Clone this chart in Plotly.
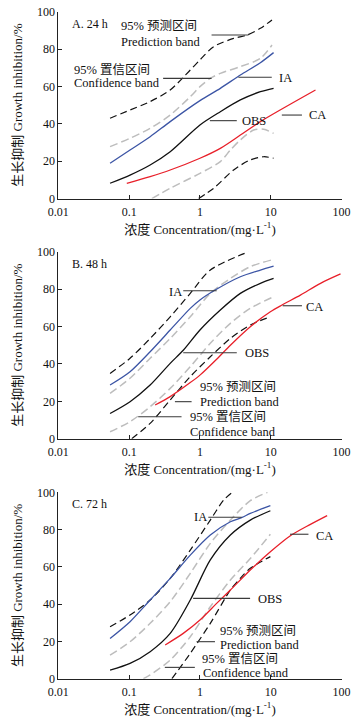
import plotly.graph_objects as go

# ---------------- data (concentration mg/L, inhibition %) ----------------
# Panel A 24 h
A_IA_x = [0.0538, 0.103, 0.198, 0.380, 1.0, 1.94, 3.72, 7.13, 10.96]
A_IA_y = [18.9, 26.0, 33.1, 41.2, 52.4, 59.0, 66.1, 72.7, 78.1]
A_OBS_x = [0.0538, 0.103, 0.198, 0.380, 1.0, 1.94, 3.72, 7.13, 10.96]
A_OBS_y = [8.2, 12.6, 18.0, 25.1, 39.4, 46.5, 52.8, 57.2, 59.0]
A_CA_x = [0.0927, 0.198, 0.380, 1.0, 1.94, 3.72, 7.13, 42.8]
A_CA_y = [8.2, 11.8, 15.3, 21.6, 26.9, 34.0, 41.2, 58.1]
A_CU_x = [0.0538, 0.103, 0.198, 0.380, 0.730, 1.0, 1.40, 1.94, 3.72, 7.13, 10.4]
A_CU_y = [27.8, 32.3, 37.6, 44.7, 54.5, 59.9, 64.3, 67.0, 70.6, 75.0, 82.2]
A_CL_x = [0.209, 0.380, 1.0, 1.94, 2.69, 3.72, 5.73, 7.94, 10.96]
A_CL_y = [0.0, 5.5, 13.5, 19.8, 26.0, 31.4, 36.7, 37.1, 34.9]
A_PU_x = [0.0538, 0.103, 0.198, 0.380, 0.730, 1.0, 1.56, 2.99, 4.62, 7.13, 10.4]
A_PU_y = [43.0, 47.4, 51.9, 58.1, 68.8, 74.2, 81.3, 85.7, 87.5, 91.1, 95.6]
A_PL_x = [0.955, 1.56, 2.99, 5.14, 7.94, 10.96]
A_PL_y = [0.0, 5.5, 15.3, 20.7, 22.4, 21.6]

# Panel B 48 h
B_IA_x = [0.0538, 0.103, 0.198, 0.380, 0.730, 1.0, 1.64, 3.72, 7.13, 10.96]
B_IA_y = [28.7, 35.8, 46.5, 58.1, 69.7, 74.2, 79.5, 86.6, 90.2, 92.3]
B_OBS_x = [0.0538, 0.103, 0.198, 0.380, 0.586, 1.0, 1.94, 3.72, 7.13, 10.96]
B_OBS_y = [13.5, 19.8, 28.7, 40.3, 47.4, 58.1, 68.8, 77.7, 83.1, 85.7]
B_CA_x = [0.233, 0.380, 0.730, 1.0, 1.72, 2.69, 5.14, 9.87, 14.4, 26.2, 50.4, 96.6]
B_CA_y = [18.0, 22.5, 30.0, 34.0, 42.5, 50.0, 59.9, 67.9, 71.5, 76.8, 83.1, 88.1]
B_CU_x = [0.0538, 0.103, 0.198, 0.380, 0.730, 1.40, 2.69, 5.14, 10.96]
B_CU_y = [24.2, 32.3, 43.0, 53.6, 65.2, 77.7, 85.7, 92.0, 95.9]
B_CL_x = [0.0538, 0.103, 0.198, 0.380, 0.730, 1.40, 2.69, 5.14, 10.96]
B_CL_y = [3.7, 9.1, 17.1, 26.9, 38.5, 51.0, 61.7, 69.7, 75.9]
B_PU_x = [0.0538, 0.103, 0.198, 0.380, 0.730, 1.40, 4.87]
B_PU_y = [34.9, 43.0, 53.6, 65.2, 77.7, 90.2, 100.0]
B_PL_x = [0.109, 0.198, 0.380, 0.730, 1.40, 2.69, 5.14, 9.87]
B_PL_y = [0.0, 8.2, 20.7, 33.2, 43.8, 53.6, 60.8, 65.2]

# Panel C 72 h
C_IA_x = [0.0538, 0.103, 0.198, 0.380, 0.730, 1.40, 2.69, 3.93, 5.14, 9.87]
C_IA_y = [21.6, 30.6, 42.2, 53.8, 66.3, 77.1, 84.2, 86.5, 88.7, 92.8]
C_OBS_x = [0.0538, 0.103, 0.198, 0.380, 0.730, 1.40, 2.69, 5.14, 9.87]
C_OBS_y = [4.6, 8.2, 14.5, 24.3, 42.2, 63.7, 77.1, 85.1, 90.1]
C_CA_x = [0.323, 0.581, 1.0, 1.72, 2.69, 5.14, 9.87, 18.9, 36.3, 62.5]
C_CA_y = [18.1, 24.3, 31.5, 40.4, 47.6, 58.3, 68.1, 76.7, 82.8, 87.5]
C_CU_x = [0.0538, 0.103, 0.198, 0.380, 0.730, 1.40, 2.69, 5.14, 9.0]
C_CU_y = [12.7, 19.8, 29.7, 41.3, 56.5, 72.6, 85.1, 95.5, 100.0]
C_CL_x = [0.159, 0.198, 0.380, 0.730, 1.40, 2.69, 5.14, 9.87]
C_CL_y = [0.0, 2.0, 10.0, 22.5, 38.6, 52.9, 64.5, 77.5]
C_PU_x = [0.0538, 0.103, 0.198, 0.380, 0.730, 1.40, 2.16, 2.99]
C_PU_y = [27.9, 34.2, 42.2, 53.8, 69.0, 85.1, 95.8, 100.5]
C_PL_x = [0.402, 0.730, 1.40, 2.69, 3.72, 5.14, 9.87]
C_PL_y = [0.0, 13.6, 29.7, 47.6, 53.9, 59.2, 65.5]

x_tickvals = [0.01, 0.1, 1, 10, 100]
x_ticktext = ["0.01", "0.1", "1", "10", "100"]
y_tickvals = [0, 20, 40, 60, 80, 100]

panel_titles = ["A. 24 h", "B. 48 h", "C. 72 h"]
x_title = "浓度 Concentration/(mg·L<sup>-1</sup>)"
y_title = "生长抑制 Growth inhibition/%"

# ---------------- styling ----------------
FONT = "Liberation Serif, Times New Roman, Noto Sans CJK SC, serif"
BLUE = "#3c55a5"
RED = "#e8202a"
BLACK = "#111111"
GREY = "#bdbdbd"
PTR = "#3a3a3a"

H = 722.0
x_dom = [58.3 / 360, 341.6 / 360]
y_doms = [
    [1 - 198.6 / H, 1 - 11.7 / H],
    [1 - 438.7 / H, 1 - 251.7 / H],
    [1 - 678.7 / H, 1 - 492.3 / H],
]

panels = [
    dict(IA=(A_IA_x, A_IA_y), OBS=(A_OBS_x, A_OBS_y), CA=(A_CA_x, A_CA_y),
         CU=(A_CU_x, A_CU_y), CL=(A_CL_x, A_CL_y), PU=(A_PU_x, A_PU_y), PL=(A_PL_x, A_PL_y)),
    dict(IA=(B_IA_x, B_IA_y), OBS=(B_OBS_x, B_OBS_y), CA=(B_CA_x, B_CA_y),
         CU=(B_CU_x, B_CU_y), CL=(B_CL_x, B_CL_y), PU=(B_PU_x, B_PU_y), PL=(B_PL_x, B_PL_y)),
    dict(IA=(C_IA_x, C_IA_y), OBS=(C_OBS_x, C_OBS_y), CA=(C_CA_x, C_CA_y),
         CU=(C_CU_x, C_CU_y), CL=(C_CL_x, C_CL_y), PU=(C_PU_x, C_PU_y), PL=(C_PL_x, C_PL_y)),
]

styles = {
    "PU": dict(color=BLACK, width=1.2, dash="7px,4px"),
    "PL": dict(color=BLACK, width=1.2, dash="7px,4px"),
    "CU": dict(color=GREY, width=1.5, dash="8px,4px"),
    "CL": dict(color=GREY, width=1.5, dash="8px,4px"),
    "OBS": dict(color=BLACK, width=1.3),
    "IA": dict(color=BLUE, width=1.3),
    "CA": dict(color=RED, width=1.3),
}

fig = go.Figure()
for i, p in enumerate(panels):
    n = "" if i == 0 else str(i + 1)
    for key in ["CU", "CL", "PU", "PL", "OBS", "IA", "CA"]:
        xs, ys = p[key]
        fig.add_trace(go.Scatter(
            x=xs, y=ys, mode="lines", line=dict(shape="spline", smoothing=0.8, **styles[key]),
            xaxis="x" + n, yaxis="y" + n, showlegend=False, hoverinfo="skip"))

# label positions and pointer lines, in axis-domain fractions
BAND = 12.5
PRED1, PRED2 = "95% 预测区间", "Prediction band"
CONF1, CONF2 = "95% 置信区间", "Confidence band"
labels = [
    [
        (PRED1, 0.2146, 0.9234, BAND), (PRED2, 0.2146, 0.8396, BAND),
        (CONF1, 0.0495, 0.688, BAND), (CONF2, 0.0495, 0.6168, BAND),
        ("IA", 0.771, 0.6435, 12.5),
        ("OBS", 0.6415, 0.417, 12.5),
        ("CA", 0.877, 0.447, 12.5),
    ],
    [
        ("IA", 0.382, 0.786, 12.5),
        ("CA", 0.868, 0.706, 12.5),
        ("OBS", 0.651, 0.456, 12.5),
        (PRED1, 0.494, 0.278, BAND), (PRED2, 0.494, 0.194, BAND),
        (CONF1, 0.4587, 0.1176, BAND), (CONF2, 0.4587, 0.0339, BAND),
    ],
    [
        ("IA", 0.4705, 0.866, 12.5),
        ("CA", 0.901, 0.766, 12.5),
        ("OBS", 0.698, 0.4275, 12.5),
        (PRED1, 0.565, 0.2576, BAND), (PRED2, 0.565, 0.1807, BAND),
        (CONF1, 0.50, 0.1055, BAND), (CONF2, 0.505, 0.0286, BAND),
    ],
]
pointers = [
    [(0.541, 0.671, 0.875, 0.875), (0.370, 0.541, 0.6435, 0.6435),
     (0.6356, 0.7535, 0.649, 0.649), (0.535, 0.630, 0.417, 0.417),
     (0.789, 0.860, 0.447, 0.447)],
    [(0.441, 0.559, 0.7914, 0.7914), (0.792, 0.860, 0.711, 0.711),
     (0.441, 0.630, 0.46, 0.46), (0.4116, 0.4705, 0.198, 0.198),
     (0.282, 0.435, 0.1176, 0.1176)],
    [(0.5295, 0.647, 0.866, 0.866), (0.818, 0.883, 0.775, 0.775),
     (0.476, 0.677, 0.431, 0.431), (0.488, 0.553, 0.1986, 0.1986),
     (0.376, 0.482, 0.0608, 0.0608)],
]

annotations = []
shapes = []
for i in range(3):
    n = "" if i == 0 else str(i + 1)
    xr, yr = "x" + n + " domain", "y" + n + " domain"
    annotations.append(dict(text=panel_titles[i], x=0.040, y=0.936, xref=xr, yref=yr,
                            xanchor="left", yanchor="middle", showarrow=False,
                            font=dict(size=12, family=FONT, color="#111")))
    for t, x, y, fs in labels[i]:
        annotations.append(dict(text=t, x=x, y=y, xref=xr, yref=yr, xanchor="left",
                                yanchor="middle", align="left", showarrow=False,
                                font=dict(size=fs, family=FONT, color="#111")))
    for x0, x1, y0, y1 in pointers[i]:
        shapes.append(dict(type="line", x0=x0, x1=x1, y0=y0, y1=y1, xref=xr, yref=yr,
                           line=dict(color=PTR, width=1.1)))

layout = dict(
    template="none",
    width=360, height=722, margin=dict(l=0, r=0, t=0, b=0, pad=0, autoexpand=False),
    paper_bgcolor="white", plot_bgcolor="white",
    font=dict(family=FONT, size=12, color="#111"),
    annotations=annotations, shapes=shapes, showlegend=False,
)
for i in range(3):
    n = "" if i == 0 else str(i + 1)
    layout["xaxis" + n] = dict(
        type="log", range=[-2, 2], domain=x_dom, anchor="y" + n, automargin=False,
        tickvals=x_tickvals, ticktext=x_ticktext, ticks="inside", ticklen=4,
        tickcolor="#222", showline=True, linecolor="#222", linewidth=1,
        showgrid=False, zeroline=False, tickfont=dict(size=12, family=FONT),
        ticklabelstandoff=2,
        title=dict(text=x_title, font=dict(size=13, family=FONT), standoff=6))
    layout["yaxis" + n] = dict(
        range=[0, 100], domain=y_doms[i], anchor="x" + n, automargin=False,
        tickvals=y_tickvals, ticks="inside", ticklen=4, tickcolor="#222",
        showline=True, linecolor="#222", linewidth=1, showgrid=False, zeroline=False,
        tickfont=dict(size=12, family=FONT),
        title=dict(text=y_title, font=dict(size=13, family=FONT), standoff=11))

fig.update_layout(**layout)
fig.write_html("out.html", config={"displayModeBar": False},
               post_script="document.body.style.margin='0';")
